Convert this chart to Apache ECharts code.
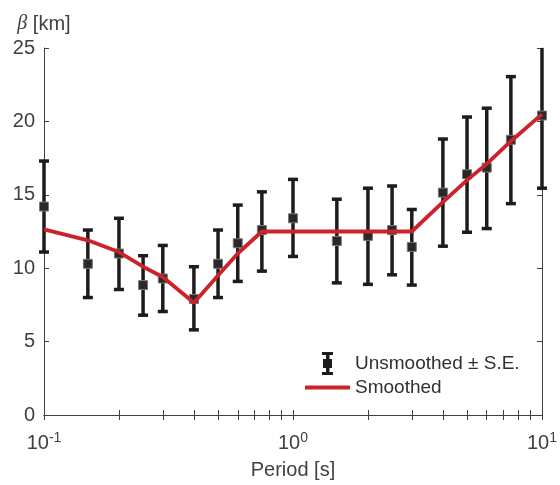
<!DOCTYPE html>
<html>
<head>
<meta charset="utf-8">
<script src="https://cdn.jsdelivr.net/npm/echarts@6/dist/echarts.min.js"></script>
<style>html,body{margin:0;padding:0;background:#fff}#c{width:560px;height:485px}</style>
</head>
<body>
<div id="c"></div>
<script>
// ---- data ----
const periods    = [0.1, 0.15, 0.2, 0.25, 0.3, 0.4, 0.5, 0.6, 0.75, 1, 1.5, 2, 2.5, 3, 4, 5, 6, 7.5, 10];
const unsmoothed = [14.2, 10.3, 11.0, 8.85, 9.3, 7.9, 10.3, 11.7, 12.6, 13.4, 11.85, 12.2, 12.6, 11.45, 15.15, 16.4, 16.85, 18.75, 20.4];
const seUpper    = [17.3, 12.6, 13.4, 10.85, 11.55, 10.1, 12.6, 14.3, 15.2, 16.05, 14.7, 15.45, 15.6, 14.0, 18.8, 20.3, 20.9, 23.05, 25.35];
const seLower    = [11.1, 8.0, 8.55, 6.8, 7.05, 5.8, 8.0, 9.1, 9.8, 10.8, 9.0, 8.9, 9.55, 8.85, 11.5, 12.45, 12.7, 14.4, 15.45];
const smoothed   = [12.65, 11.9, 11.1, 10.1, 9.4, 7.65, 9.5, 11.0, 12.5, 12.5, 12.5, 12.5, 12.5, 12.5, 14.5, 16.0, 17.1, 18.65, 20.5];
const xMajorTicks = [0.1, 1, 10];
const xAllTicks = [0.1,0.2,0.3,0.4,0.5,0.6,0.7,0.8,0.9,1,2,3,4,5,6,7,8,9,10];
const yMin = 0, yMax = 25, yStep = 5;
const seriesNames = ['Unsmoothed \u00b1 S.E.', 'Smoothed'];

const FONT = 'Liberation Sans, Arial, Helvetica, sans-serif';
const AX = '#404040';
const RED = '#CC2229';

const errData = periods.map((p, i) => [p, seLower[i], seUpper[i], unsmoothed[i]]);
const lineData = periods.map((p, i) => [p, smoothed[i]]);

const chart = echarts.init(document.getElementById('c'), null, {renderer: 'canvas'});

const xCommon = {
  type: 'log', logBase: 10, min: 0.1, max: 10,
  axisLine: {show: true, lineStyle: {color: AX, width: 1}},
  axisTick: {show: true, inside: true, length: 5, lineStyle: {color: AX, width: 1}, customValues: xAllTicks},
  splitLine: {show: false}, minorTick: {show: false}
};
const yCommon = {
  type: 'value', min: yMin, max: yMax, interval: yStep,
  axisLine: {show: true, lineStyle: {color: AX, width: 1}},
  axisTick: {show: true, inside: true, length: 5, lineStyle: {color: AX, width: 1}},
  splitLine: {show: false}
};

const option = {
  animation: false,
  backgroundColor: '#fff',
  grid: {left: 44, right: 17, top: 48, bottom: 70, containLabel: false},
  xAxis: [
    Object.assign({}, xCommon, {
      position: 'bottom',
      name: 'Period [s]', nameLocation: 'middle', nameGap: 45,
      nameTextStyle: {fontFamily: FONT, fontSize: 20, color: AX},
      axisLabel: {
        show: true, margin: 16, customValues: xMajorTicks, color: AX,
        fontFamily: FONT, fontSize: 20,
        formatter: v => '10{s|' + Math.round(Math.log10(v)) + '}',
        rich: {s: {fontFamily: FONT, fontSize: 14, color: AX, padding: [0, 0, 10, 0]}}
      }
    }),
    Object.assign({}, xCommon, {position: 'top', axisLabel: {show: false}})
  ],
  yAxis: [
    Object.assign({}, yCommon, {
      position: 'left',
      name: '{b|\u03b2} [km]', nameLocation: 'end', nameGap: 14,
      nameTextStyle: {fontFamily: FONT, fontSize: 20, color: AX,
        rich: {b: {fontFamily: 'Liberation Serif, DejaVu Serif, serif', fontStyle: 'italic', fontSize: 20, color: AX}}},
      axisLabel: {show: true, margin: 9, color: AX, fontFamily: FONT, fontSize: 20}
    }),
    Object.assign({}, yCommon, {position: 'right', axisLabel: {show: false}})
  ],
  legend: {
    orient: 'vertical', left: 300, top: 347, padding: 5, itemWidth: 45, itemHeight: 23, itemGap: 3,
    textStyle: {fontFamily: FONT, fontSize: 19, color: '#303030'},
    data: [
      {name: seriesNames[0], icon: 'path://M0,0h11v3h-11z M4,1h3.5v21h-3.5z M0,20h11v3h-11z M1,7h9v9h-9z'},
      {name: seriesNames[1], icon: 'path://M0,0h45v4h-45z'}
    ],
    selectedMode: false
  },
  series: [
    {
      name: seriesNames[0], type: 'custom', xAxisIndex: 0, yAxisIndex: 0,
      itemStyle: {color: '#1e1b1b'},
      encode: {x: 0, y: 3},
      data: errData,
      z: 2,
      renderItem: function (params, api) {
        const x = api.value(0), lo = api.value(1), hi = api.value(2), v = api.value(3);
        const clipped = hi > yMax;
        const pLo = api.coord([x, lo]);
        const pHi = api.coord([x, Math.min(hi, yMax)]);
        const pV = api.coord([x, v]);
        const cw = 5, col = '#1e1b1b', lw = 3.5;
        const children = [
          {type: 'line', shape: {x1: pLo[0], y1: pLo[1], x2: pHi[0], y2: pHi[1]}, style: {stroke: col, lineWidth: lw}},
          {type: 'line', shape: {x1: pLo[0] - cw, y1: pLo[1], x2: pLo[0] + cw, y2: pLo[1]}, style: {stroke: col, lineWidth: lw}}
        ];
        if (!clipped) {
          children.push({type: 'line', shape: {x1: pHi[0] - cw, y1: pHi[1], x2: pHi[0] + cw, y2: pHi[1]}, style: {stroke: col, lineWidth: lw}});
        }
        children.push({type: 'rect', shape: {x: pV[0] - 4.5, y: pV[1] - 4.5, width: 9, height: 9},
          style: {fill: '#2a2828', stroke: '#7a7a7a', lineWidth: 1}});
        return {type: 'group', children: children};
      }
    },
    {
      name: seriesNames[1], type: 'line', xAxisIndex: 0, yAxisIndex: 0,
      data: lineData, showSymbol: false, symbol: 'none',
      lineStyle: {color: RED, width: 3.8},
      itemStyle: {color: RED},
      z: 5
    }
  ]
};
chart.setOption(option);
</script>
</body>
</html>
